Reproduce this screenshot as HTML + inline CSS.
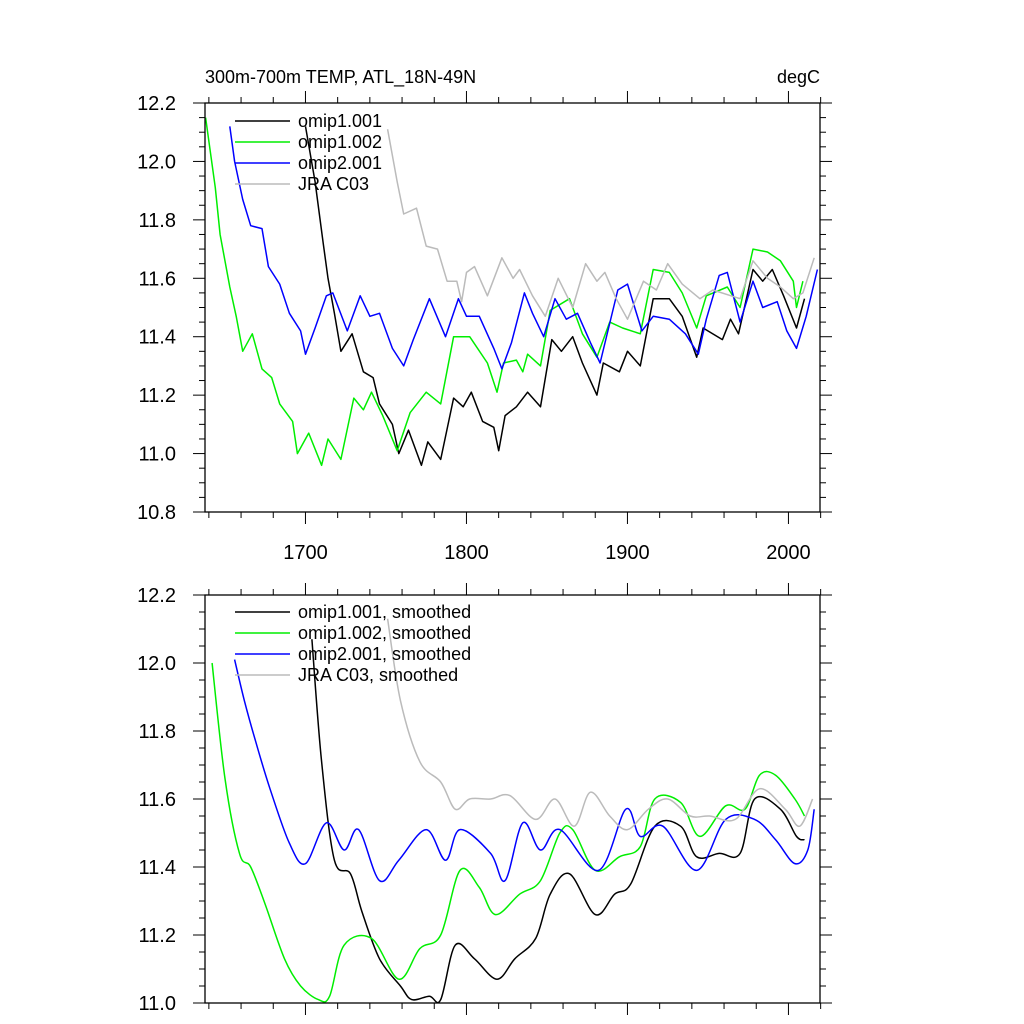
<!DOCTYPE html>
<html><head><meta charset="utf-8"><style>
body{margin:0;background:#fff;}
svg{display:block;font-family:"Liberation Sans",sans-serif;}
</style></head><body>
<svg id="chart" width="1024" height="1024" viewBox="0 0 1024 1024"></svg>
<script>
// ---- data (top panel: raw) ----
const yrsG1=[1638,1644,1647,1653,1657,1661,1667,1673,1679,1684,1692,1695,1702,1710,1714,1722,1730,1736,1741,1748,1757,1765,1775,1784,1792,1802,1813,1819,1823,1831,1835,1838,1846,1852,1864,1872,1881,1889,1897,1908,1916,1926,1934,1943,1949,1962,1970,1978,1987,1995,2003,2005,2009];
const valG1=[12.15,11.91,11.75,11.57,11.47,11.35,11.41,11.29,11.26,11.17,11.11,11.0,11.07,10.96,11.05,10.98,11.19,11.15,11.21,11.13,11.01,11.14,11.21,11.17,11.40,11.40,11.31,11.21,11.31,11.32,11.28,11.34,11.30,11.49,11.53,11.41,11.33,11.45,11.43,11.41,11.63,11.62,11.55,11.43,11.54,11.57,11.50,11.70,11.69,11.66,11.59,11.50,11.59];
const yrsK1=[1700,1706,1711,1714,1718,1722,1729,1736,1742,1746,1754,1758,1764,1772,1776,1784,1792,1798,1803,1810,1817,1820,1824,1831,1838,1846,1853,1859,1866,1872,1881,1885,1895,1900,1908,1916,1926,1934,1943,1947,1959,1964,1969,1978,1984,1990,1997,2005,2010];
const valK1=[12.12,11.93,11.72,11.60,11.48,11.35,11.41,11.28,11.26,11.17,11.10,11.0,11.08,10.96,11.04,10.98,11.19,11.16,11.21,11.11,11.09,11.01,11.13,11.16,11.21,11.16,11.39,11.35,11.40,11.31,11.20,11.31,11.28,11.35,11.30,11.53,11.53,11.47,11.33,11.43,11.39,11.46,11.41,11.63,11.59,11.63,11.54,11.43,11.53];
const yrsB1=[1653,1656,1661,1666,1673,1677,1684,1690,1697,1700,1706,1713,1717,1726,1734,1740,1746,1754,1761,1767,1777,1787,1795,1800,1808,1817,1822,1828,1836,1841,1848,1855,1862,1869,1877,1883,1894,1900,1909,1916,1926,1936,1944,1949,1957,1962,1970,1978,1984,1993,1999,2005,2011,2018];
const valB1=[12.12,12.00,11.87,11.78,11.77,11.64,11.58,11.48,11.42,11.34,11.43,11.54,11.55,11.42,11.54,11.47,11.48,11.36,11.30,11.39,11.53,11.40,11.53,11.47,11.47,11.36,11.29,11.38,11.55,11.48,11.40,11.53,11.46,11.48,11.38,11.31,11.56,11.58,11.42,11.47,11.46,11.41,11.34,11.46,11.61,11.62,11.45,11.59,11.50,11.52,11.42,11.36,11.47,11.63];
const yrsJ1=[1751,1757,1761,1769,1775,1782,1788,1794,1797,1800,1805,1813,1822,1829,1833,1841,1849,1857,1866,1874,1881,1886,1893,1900,1910,1918,1925,1934,1945,1953,1970,1978,1987,1995,2003,2009,2016];
const valJ1=[12.11,11.93,11.82,11.84,11.71,11.70,11.59,11.59,11.52,11.62,11.64,11.54,11.67,11.60,11.63,11.54,11.47,11.60,11.50,11.65,11.59,11.62,11.53,11.46,11.59,11.56,11.65,11.58,11.53,11.56,11.53,11.66,11.60,11.57,11.53,11.55,11.67];
// ---- data (bottom panel: smoothed) ----
const yrsG2=[1642,1650,1659,1666,1675,1687,1697,1708,1715,1724,1741,1758,1771,1784,1796,1808,1818,1833,1846,1858,1866,1880,1895,1908,1917,1933,1945,1961,1973,1982,1992,2004,2010];
const valG2=[12.0,11.66,11.44,11.40,11.29,11.13,11.05,11.01,11.02,11.17,11.19,11.07,11.16,11.20,11.39,11.34,11.26,11.32,11.36,11.50,11.51,11.39,11.43,11.46,11.60,11.59,11.49,11.58,11.57,11.67,11.67,11.60,11.55];
const yrsK2=[1704,1710,1718,1728,1735,1746,1759,1766,1777,1784,1793,1805,1819,1830,1843,1852,1864,1880,1892,1902,1917,1933,1943,1957,1970,1979,1995,2005,2010];
const valK2=[12.07,11.71,11.42,11.38,11.27,11.13,11.05,11.01,11.02,11.01,11.17,11.13,11.07,11.13,11.19,11.32,11.38,11.26,11.32,11.35,11.52,11.52,11.43,11.44,11.44,11.60,11.57,11.49,11.48];
const yrsB2=[1656,1662,1669,1678,1690,1700,1713,1724,1733,1746,1758,1775,1787,1796,1815,1824,1835,1846,1858,1882,1899,1908,1922,1943,1961,1979,1992,2004,2012,2016];
const valB2=[12.01,11.89,11.77,11.63,11.47,11.41,11.53,11.45,11.51,11.36,11.42,11.51,11.42,11.51,11.44,11.36,11.53,11.45,11.51,11.39,11.57,11.49,11.52,11.39,11.54,11.54,11.48,11.41,11.45,11.57];
const yrsJ2=[1751,1759,1771,1784,1793,1802,1815,1827,1843,1855,1867,1877,1889,1900,1913,1925,1939,1951,1967,1982,1998,2007,2015];
const valJ2=[12.13,11.89,11.71,11.65,11.57,11.60,11.60,11.61,11.54,11.60,11.52,11.62,11.55,11.51,11.57,11.60,11.55,11.55,11.54,11.63,11.57,11.52,11.60];
const xTicks=[1700,1800,1900,2000];
const yTicksTop=["10.8","11.0","11.2","11.4","11.6","11.8","12.0","12.2"];
const yTicksBot=["11.0","11.2","11.4","11.6","11.8","12.0","12.2"];

const NS="http://www.w3.org/2000/svg";
const svg=document.getElementById('chart');
function mk(tag,attrs,parent){const e=document.createElementNS(NS,tag);for(const k in attrs)e.setAttribute(k,attrs[k]);(parent||svg).appendChild(e);return e;}
const X0=205,X1=820,YR0=1637.6,YR1=2019.6;
const xs=yr=>X0+(yr-YR0)/(YR1-YR0)*(X1-X0);

function pathFor(pts,smooth){
  if(!smooth){return pts.map((p,i)=>(i?'L':'M')+p[0].toFixed(1)+' '+p[1].toFixed(1)).join('');}
  let d='M'+pts[0][0].toFixed(1)+' '+pts[0][1].toFixed(1);
  for(let i=0;i<pts.length-1;i++){
    const p0=pts[Math.max(0,i-1)],p1=pts[i],p2=pts[i+1],p3=pts[Math.min(pts.length-1,i+2)];
    const c1=[p1[0]+(p2[0]-p0[0])/6,p1[1]+(p2[1]-p0[1])/6];
    const c2=[p2[0]-(p3[0]-p1[0])/6,p2[1]-(p3[1]-p1[1])/6];
    d+='C'+c1[0].toFixed(1)+' '+c1[1].toFixed(1)+' '+c2[0].toFixed(1)+' '+c2[1].toFixed(1)+' '+p2[0].toFixed(1)+' '+p2[1].toFixed(1);
  }
  return d;
}

function panel(name,top,bot,vmin,vmax,yTicks,series,legendTop,showXLabels,smooth){
  const g=mk('g',{});
  
  
  const ys=v=>bot-(v-vmin)/(vmax-vmin)*(bot-top);
  series.forEach(s=>{
    const pts=s.yrs.map((y,i)=>[xs(y),ys(s.vals[i])]);
    const p=mk('path',{d:pathFor(pts,smooth),fill:'none',stroke:s.color,'stroke-width':1.5,'stroke-linejoin':'round'},g);
    
    
  });
  const f=mk('rect',{x:X0,y:top,width:X1-X0,height:bot-top,fill:'none',stroke:'#000','stroke-width':1.3},g);
  
  
  for(let v=vmin;v<=vmax+1e-6;v+=0.05){
    const major=Math.abs(Math.round(v*5)-v*5)<1e-6;const L=major?12:6;const y=ys(v);
    mk('line',{x1:X0,x2:X0-L,y1:y,y2:y,stroke:'#000','stroke-width':1},g);
    mk('line',{x1:X1,x2:X1+L,y1:y,y2:y,stroke:'#000','stroke-width':1},g);
  }
  yTicks.forEach(t=>{
    const tx=mk('text',{x:X0-29,y:ys(parseFloat(t))+7,'text-anchor':'end','font-size':20},g);
    tx.textContent=t;
    
    
  });
  for(let yr=1640;yr<=2020;yr+=20){
    const major=yr%100===0;const L=major?12:6;const x=xs(yr);
    mk('line',{x1:x,x2:x,y1:bot,y2:bot+L,stroke:'#000','stroke-width':1},g);
    mk('line',{x1:x,x2:x,y1:top,y2:top-L,stroke:'#000','stroke-width':1},g);
  }
  if(showXLabels){xTicks.forEach(t=>{
    const tx=mk('text',{x:xs(t),y:bot+47,'text-anchor':'middle','font-size':20},g);
    tx.textContent=String(t);
    
    
  });}
  series.forEach((s,i)=>{
    const y=legendTop+i*21;
    const lg=mk('g',{},g);
    
    
    mk('line',{x1:235,x2:290,y1:y,y2:y,stroke:s.color,'stroke-width':1.5},lg);
    const tx=mk('text',{x:298,y:y+6,'font-size':18},lg);
    tx.textContent=s.label;
  });
}
const t1=mk('text',{x:205,y:83,'font-size':18});t1.textContent='300m-700m TEMP, ATL_18N-49N';


const t2=mk('text',{x:820,y:83,'font-size':18,'text-anchor':'end'});t2.textContent='degC';



panel('top-panel',103,512,10.8,12.2,yTicksTop,[
 {id:'omip1-001',label:'omip1.001',color:'#000',yrs:yrsK1,vals:valK1},
 {id:'omip1-002',label:'omip1.002',color:'#00ee00',yrs:yrsG1,vals:valG1},
 {id:'omip2-001',label:'omip2.001',color:'#0000ff',yrs:yrsB1,vals:valB1},
 {id:'jra-c03',label:'JRA C03',color:'#bbbbbb',yrs:yrsJ1,vals:valJ1}],121,true,false);
panel('bottom-panel',595,1003,11.0,12.2,yTicksBot,[
 {id:'omip1-001-smoothed',label:'omip1.001, smoothed',color:'#000',yrs:yrsK2,vals:valK2},
 {id:'omip1-002-smoothed',label:'omip1.002, smoothed',color:'#00ee00',yrs:yrsG2,vals:valG2},
 {id:'omip2-001-smoothed',label:'omip2.001, smoothed',color:'#0000ff',yrs:yrsB2,vals:valB2},
 {id:'jra-c03-smoothed',label:'JRA C03, smoothed',color:'#bbbbbb',yrs:yrsJ2,vals:valJ2}],612,false,true);
</script>
</body></html>
